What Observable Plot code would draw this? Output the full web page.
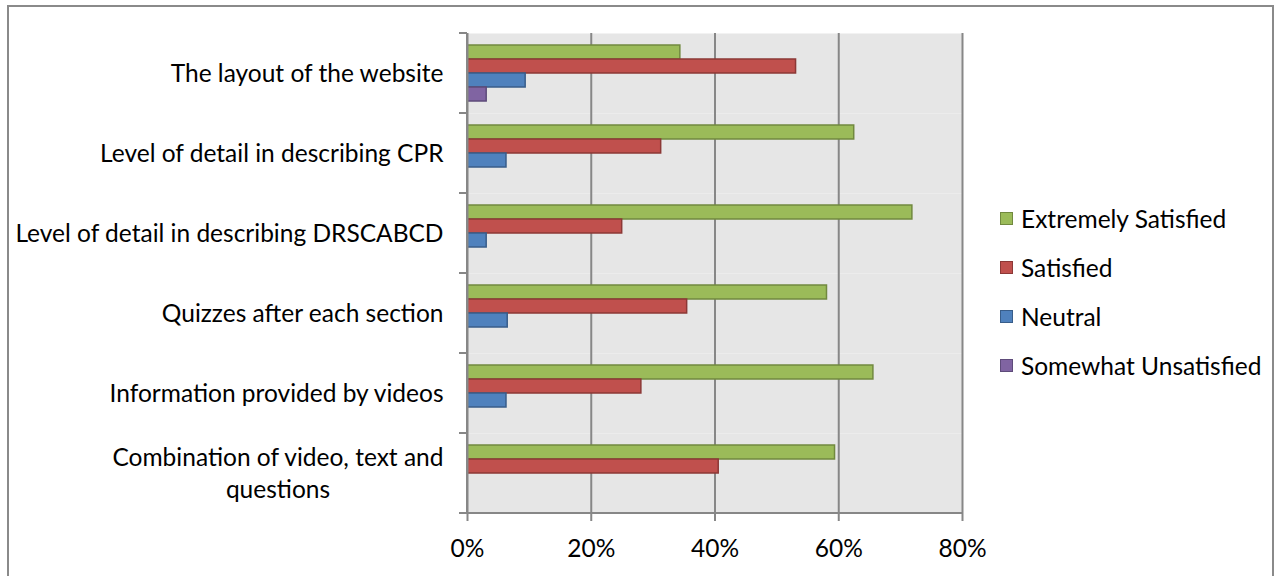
<!DOCTYPE html>
<html><head><meta charset="utf-8">
<script src="https://cdn.jsdelivr.net/npm/d3@7"></script>
<script src="https://cdn.jsdelivr.net/npm/@observablehq/plot@0.6"></script>
<style>
body{margin:0;background:#fff;}
#wrap{position:relative;width:1277px;height:576px;overflow:hidden;font-family:Lato, sans-serif;}
#border{position:absolute;left:7px;top:5px;width:1267px;height:640px;border:2px solid #8a8a8a;box-sizing:border-box;}
#chart{position:absolute;left:0;top:0;}
#legend{position:absolute;left:1000px;top:194px;font-size:24.5px;color:#000;}
.row{display:flex;align-items:center;height:49px;}
.sw{width:13px;height:13px;box-sizing:border-box;border:1.5px solid;margin-right:8px;}
</style></head><body>
<div id="wrap"><div id="border"></div><div id="chart"></div><div id="legend"></div></div>
<script>
const categories = [
  "The layout of the website",
  "Level of detail in describing CPR",
  "Level of detail in describing DRSCABCD",
  "Quizzes after each section",
  "Information provided by videos",
  "Combination of video, text and questions"
];
const categoryLabels = [
  "The layout of the website",
  "Level of detail in describing CPR",
  "Level of detail in describing DRSCABCD",
  "Quizzes after each section",
  "Information provided by videos",
  "Combination of video, text and\nquestions"
];
const series = ["Extremely Satisfied", "Satisfied", "Neutral", "Somewhat Unsatisfied"];
const extremelySatisfied = [34.4, 62.5, 71.9, 58.1, 65.6, 59.4];
const satisfied = [53.1, 31.3, 25.0, 35.5, 28.1, 40.6];
const neutral = [9.4, 6.3, 3.1, 6.5, 6.3, 0];
const somewhatUnsatisfied = [3.1, 0, 0, 0, 0, 0];
const xTicks = [0, 20, 40, 60, 80];
const fills = ["#9BBB59", "#C0504D", "#4F81BD", "#8064A2"];
const strokes = ["#71893F", "#8C3836", "#385D8A", "#5E4B7A"];

const seriesValues = [extremelySatisfied, satisfied, neutral, somewhatUnsatisfied];
const rows = [];
categories.forEach((c, i) => series.forEach((s, j) => {
  if (seriesValues[j][i] > 0) rows.push({category: c, series: s, value: seriesValues[j][i]});
}));
const labelOf = new Map(categories.map((c, i) => [c, categoryLabels[i]]));
const fmt = d => d + "%";

const plot = Plot.plot({
  width: 1277, height: 576,
  marginLeft: 467, marginRight: 315, marginTop: 33, marginBottom: 63,
  style: {fontFamily: "Lato, sans-serif", fontSize: "24.5px", color: "#000", background: "transparent", overflow: "visible"},
  x: {domain: [0, 80], ticks: xTicks, tickFormat: fmt, label: null},
  y: {domain: series, paddingInner: 0, paddingOuter: 0.667, axis: null},
  fy: {domain: categories, padding: 0, axis: null},
  marks: [
    Plot.frame({fill: "#E6E6E6", stroke: null}),
    Plot.gridX(xTicks.filter(d => d > 0), {stroke: "#878787", strokeOpacity: 1, strokeWidth: 2}),
    ...series.map((s, j) => Plot.barX(rows.filter(r => r.series === s), {
      x: "value", y: "series", fy: "category",
      fill: fills[j], stroke: strokes[j], strokeWidth: 1.5
    })),
    Plot.ruleX([0], {stroke: "#878787", strokeWidth: 2}),
    Plot.text(categories, {fy: d => d, text: d => labelOf.get(d), frameAnchor: "left", dx: -24, dy: -2, textAnchor: "end", lineHeight: 1.3, fill: "#000", fontSize: 24.5}),
    Plot.axisX({ticks: xTicks, tickFormat: fmt, tickSize: 8, tickPadding: 18, stroke: "#878787", strokeWidth: 2, fill: "#000", fontSize: 24.5})
  ]
});
document.getElementById("chart").appendChild(plot);

// axis line at bottom and category boundary ticks on the left, from the plot's scales
const svg = d3.select(plot);
const xs = plot.scale("x"), fys = plot.scale("fy");
const x0 = xs.apply(0), x1 = xs.apply(80);
const bw = fys.bandwidth;
const bounds = categories.map(c => fys.apply(c)).concat([fys.apply(categories[categories.length - 1]) + bw]);
const g = svg.append("g").attr("stroke", "#878787").attr("stroke-width", 2);
g.append("line").attr("x1", x0 - 1).attr("x2", x1 + 1).attr("y1", bounds[bounds.length - 1]).attr("y2", bounds[bounds.length - 1]);
g.append("line").attr("x1", x0).attr("x2", x0).attr("y1", bounds[0]).attr("y2", bounds[bounds.length - 1]);
bounds.forEach(b => g.append("line").attr("x1", x0 - 8).attr("x2", x0).attr("y1", b).attr("y2", b));

// center multi-line category labels like the original
svg.selectAll("text").each(function() {
  const tspans = this.querySelectorAll("tspan");
  if (tspans.length > 1) {
    const w = d3.max(Array.from(tspans), t => t.getComputedTextLength());
    this.setAttribute("text-anchor", "middle");
    tspans.forEach(t => t.setAttribute("x", -w / 2));
  }
});

// legend
const legend = d3.select("#legend");
series.forEach((s, j) => {
  const r = legend.append("div").attr("class", "row");
  r.append("div").attr("class", "sw").style("background", fills[j]).style("border-color", strokes[j]);
  r.append("span").text(s);
});
</script>
</body></html>
